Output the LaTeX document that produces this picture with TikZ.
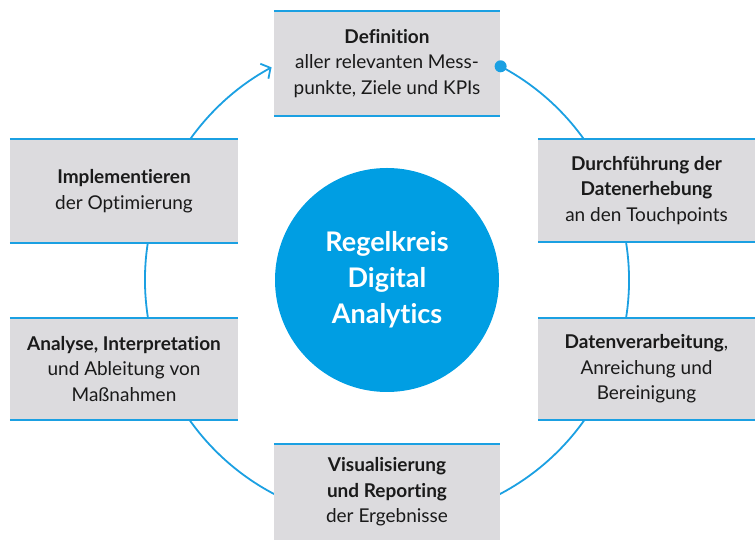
\documentclass[tikz,border=0pt]{standalone}
\usepackage{fontspec}
\setmainfont{Lato}[Ligatures=NoCommon]
\usetikzlibrary{arrows.meta,calc}
\definecolor{ringblue}{HTML}{1BA0E2}
\definecolor{circblue}{HTML}{009EE3}
\definecolor{boxgray}{HTML}{DCDBDE}
\definecolor{txt}{HTML}{1A1A1A}
\tikzset{
  stagebox/.style={fill=boxgray, draw=none, inner sep=0pt, minimum width=#1, align=center,
    text=txt, font=\fontsize{19}{25.5}\selectfont},
  edgeline/.style={draw=ringblue, line width=2pt},
  ring/.style={draw=ringblue, line width=1.8pt},
}
\begin{document}
\begin{tikzpicture}[x=1pt,y=1pt]
\useasboundingbox (0,0) rectangle (755,540);
\coordinate (O) at (387,260);
% ring
\coordinate (rs) at ($(O)+(62:242)$);
\draw[ring, -{Straight Barb[length=7pt,width=17pt,line width=1.8pt]}] (rs) arc[start angle=62, end angle=-241.5, radius=242];
% center circle
\node[circle, fill=circblue, minimum size=224pt, inner sep=0pt, text=white, align=center,
  font=\fontsize{27}{36}\selectfont\bfseries] (c) at (O) {Regelkreis\\Digital\\Analytics};
% boxes
\node[stagebox=226pt, minimum height=105pt] (b1) at (387,476.5) {\textbf{Definition}\\aller relevanten Mess-\\punkte, Ziele und KPIs};
\node[stagebox=217pt, minimum height=103pt] (b2) at (646.5,349.5) {\textbf{Durchführung der}\\\textbf{Datenerhebung}\\an den Touchpoints};
\node[stagebox=217pt, minimum height=102pt] (b3) at (646.5,171) {\textbf{Datenverarbeitung},\\Anreichung und\\Bereinigung};
\node[stagebox=226pt, minimum height=96pt] (b4) at (387,48) {\textbf{Visualisierung}\\\textbf{und Reporting}\\der Ergebnisse};
\node[stagebox=228pt, minimum height=102pt] (b5) at (124,171) {\textbf{Analyse, Interpretation}\\und Ableitung von\\Maßnahmen};
\node[stagebox=228pt, minimum height=104pt] (b6) at (124,349) {\textbf{Implementieren}\\der Optimierung};
% blue edges
\foreach \b in {b1,b2,b3,b5,b6}{
  \draw[edgeline] (\b.north west) -- (\b.north east);
  \draw[edgeline] (\b.south west) -- (\b.south east);
}
\draw[edgeline] (b4.north west) -- (b4.north east);
% start dot
\fill[ringblue] (rs) circle (6);
\end{tikzpicture}
\end{document}
